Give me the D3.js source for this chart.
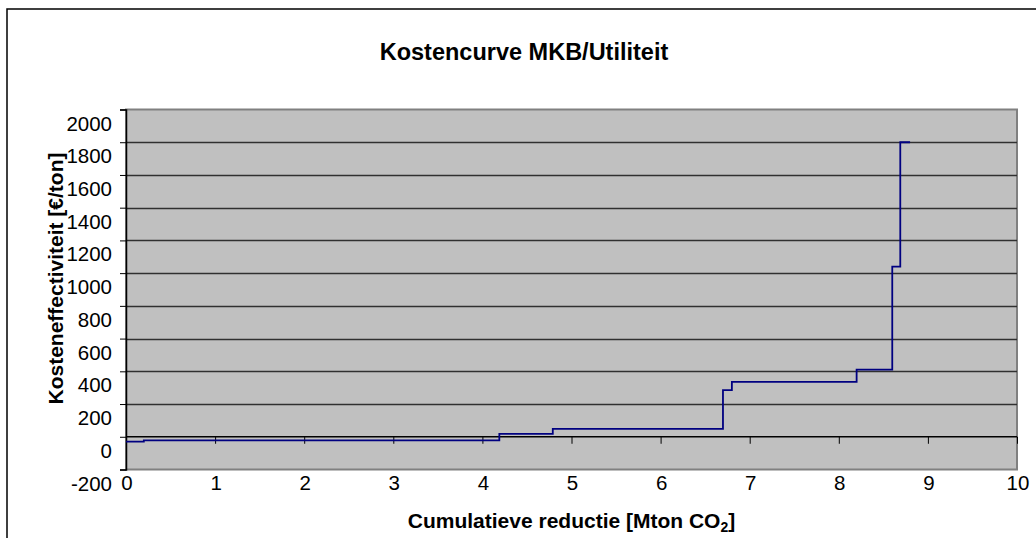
<!DOCTYPE html>
<html>
<head>
<meta charset="utf-8">
<script src="https://cdn.jsdelivr.net/npm/d3@7"></script>
<style>
  html, body { margin: 0; padding: 0; background: #fff; }
  svg { display: block; }
  text { font-family: "Liberation Sans", Arial, sans-serif; fill: #000; }
</style>
</head>
<body>
<svg id="chart" width="1036" height="538"></svg>
<script>
// ---- data ----
const cumulativeReduction = [0, 0.2, 4.19, 4.79, 6.70, 6.80, 8.20, 8.60, 8.69, 8.80];
const costEffectiveness   = [-30, -22, 18, 48, 285, 335, 410, 1040, 1800, 1800];
const xTickValues = [0, 1, 2, 3, 4, 5, 6, 7, 8, 9, 10];
const yTickValues = [-200, 0, 200, 400, 600, 800, 1000, 1200, 1400, 1600, 1800, 2000];
const chartTitle = "Kostencurve MKB/Utiliteit";
const xTitle = "Cumulatieve reductie [Mton CO";
const yTitle = "Kosteneffectiviteit [€/ton]";

const svg = d3.select("#chart");
const W = 1036, H = 538;
const plot = { left: 126, right: 1017, top: 109.5, bottom: 469.5 };

const x = d3.scaleLinear().domain([0, 10]).range([plot.left, plot.right]);
const y = d3.scaleLinear().domain([-200, 2000]).range([plot.bottom, plot.top]);

// outer chart border
svg.append("rect")
  .attr("x", 7).attr("y", 9).attr("width", W + 20).attr("height", H + 20)
  .attr("fill", "#fff").attr("stroke", "#000").attr("stroke-width", 1.5);

// plot area
svg.append("rect")
  .attr("x", plot.left).attr("y", plot.top)
  .attr("width", plot.right - plot.left).attr("height", plot.bottom - plot.top)
  .attr("fill", "#c0c0c0").attr("stroke", "#808080").attr("stroke-width", 2);

// gridlines
svg.append("g").selectAll("line")
  .data(yTickValues.filter(v => v !== -200 && v !== 2000 && v !== 0))
  .join("line")
  .attr("x1", plot.left).attr("x2", plot.right)
  .attr("y1", d => Math.round(y(d)) + 0.5).attr("y2", d => Math.round(y(d)) + 0.5)
  .attr("stroke", "#303030").attr("stroke-width", 1.3);

// y axis
const yAxis = d3.axisLeft(y).tickValues(yTickValues).tickSize(6).tickPadding(8).tickFormat(d => String(d));
const gy = svg.append("g").attr("transform", `translate(${plot.left},0)`).call(yAxis);
gy.select(".domain").attr("stroke", "#000").attr("stroke-width", 1.5);
gy.selectAll(".tick line").attr("stroke", "#000");
gy.selectAll(".tick text")
  .attr("font-size", 20.5).attr("dy", "1.0em")
  .style("font-family", "'Liberation Sans', Arial, sans-serif");

// x axis line at value 0, ticks downward
const xAxis = d3.axisBottom(x).tickValues(xTickValues).tickSize(7).tickFormat("");
const gx = svg.append("g").attr("transform", `translate(0,${y(0)})`).call(xAxis);
gx.select(".domain").attr("stroke", "#000").attr("stroke-width", 1.5).attr("d", `M${plot.left},0H${plot.right}`);
gx.selectAll(".tick line").attr("stroke", "#000");

// x tick labels at bottom
svg.append("g").selectAll("text")
  .data(xTickValues).join("text")
  .attr("x", d => x(d) + 1).attr("y", y(-200) + 20)
  .attr("text-anchor", "middle").attr("font-size", 20.5)
  .text(d => d);

// step line
const pts = cumulativeReduction.map((c, i) => [c, costEffectiveness[i]]);
const line = d3.line().x(d => x(d[0])).y(d => y(d[1])).curve(d3.curveStepAfter);
svg.append("path")
  .datum(pts)
  .attr("d", line)
  .attr("fill", "none").attr("stroke", "#000080").attr("stroke-width", 1.8);

// titles
svg.append("text")
  .attr("x", 524).attr("y", 60)
  .attr("text-anchor", "middle").attr("font-size", 23.5).attr("font-weight", "bold")
  .text(chartTitle);

const xt = svg.append("text")
  .attr("x", (plot.left + plot.right) / 2).attr("y", 528)
  .attr("text-anchor", "middle").attr("font-size", 21).attr("font-weight", "bold");
xt.append("tspan").text(xTitle);
xt.append("tspan").attr("font-size", 14).attr("dy", 4).text("2");
xt.append("tspan").attr("dy", -4).text("]");

svg.append("text")
  .attr("transform", `translate(63,${(plot.top + plot.bottom) / 2 - 11}) rotate(-90)`)
  .attr("text-anchor", "middle").attr("font-size", 21).attr("font-weight", "bold")
  .text(yTitle);
</script>
</body>
</html>
